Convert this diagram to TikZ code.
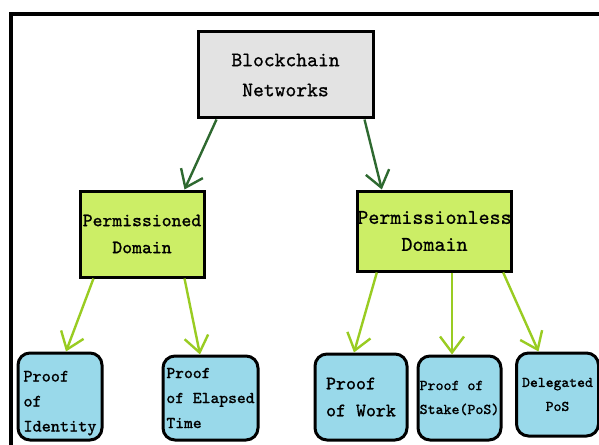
\documentclass[tikz,border=0pt]{standalone}
\usepackage{fontspec}
\newfontfamily\treefont[FakeBold=0.8]{Latin Modern Mono}
\usetikzlibrary{arrows.meta}

\definecolor{rootgray}{HTML}{E3E3E3}
\definecolor{domaingreen}{HTML}{CCEE66}
\definecolor{leafblue}{HTML}{99D9EA}
\definecolor{darkarrow}{HTML}{2E6930}
\definecolor{lightarrow}{HTML}{99CC22}

\begin{document}
\begin{tikzpicture}[x=0.5pt,y=-0.5pt,
        rootbox/.style={draw=black, line width=1.5pt, fill=rootgray, inner sep=0pt,
            minimum width=87.5pt, minimum height=43pt, align=center,
            font=\treefont\fontsize{10.3}{15}\selectfont},
        domainbox/.style={draw=black, line width=1.5pt, fill=domaingreen, inner sep=0pt,
            align=center, font=\treefont\fontsize{9.4}{13.5}\selectfont},
        leafbox/.style={draw=black, line width=1.5pt, fill=leafblue, rounded corners=6pt,
            inner sep=0pt, align=left, font=\treefont\fontsize{8.3}{12.5}\selectfont},
        darklink/.style={draw=darkarrow, line width=1.2pt, -{Straight Barb[length=8pt,width=12pt]}},
        lightlink/.style={draw=lightarrow, line width=1.2pt, -{Straight Barb[length=8pt,width=12pt]}}]

        \useasboundingbox (0,0) rectangle (599,444);
        \draw[line width=2pt] (11,14) rectangle (620,470);

        % top of the tree
        \node[rootbox] (root) at (285.5,75) {Blockchain\\Networks};

        % the two domains
        \node[domainbox, minimum width=62pt, minimum height=43pt] (perm) at (142,234) {Permissioned\\Domain};
        \node[domainbox, minimum width=72.5pt, minimum height=40pt,
            font=\treefont\fontsize{10.5}{13.5}\selectfont] (permless) at (434.5,231) {Permissionless\\Domain};

        % consensus algorithms
        \node[leafbox, minimum width=42pt, minimum height=43.5pt,
            font=\treefont\fontsize{8.7}{12.5}\selectfont] (poi) at (60,396.5) {\rule{0pt}{12pt}Proof\\of\\Identity};
        \node[leafbox, minimum width=47.5pt, minimum height=42pt] (poet) at (210.5,398) {Proof\\of Elapsed\\Time};
        \node[leafbox, minimum width=46pt, minimum height=43pt,
            font=\treefont\fontsize{9.5}{13.5}\selectfont] (pow) at (361,397) {Proof\\of Work};
        \node[leafbox, minimum width=41.5pt, minimum height=42pt,
            font=\treefont\fontsize{7.5}{12}\selectfont] (pos) at (459.5,398) {Proof of\\Stake(PoS)};
        \node[leafbox, minimum width=41pt, minimum height=41.5pt, align=center,
            font=\treefont\fontsize{7.4}{12}\selectfont] (dpos) at (557.5,394.5) {Delegated\\PoS};

        \draw[darklink] ([xshift=10pt]root.south west) -- ([xshift=-10.5pt]perm.north east);
        \draw[darklink] ([xshift=-5pt]root.south east) -- ([xshift=13pt]permless.north west);

        \draw[lightlink] ([xshift=7.5pt]perm.south west) -- ([xshift=3pt]poi.north);
        \draw[lightlink] ([xshift=-10.5pt]perm.south east) -- ([xshift=-5.25pt]poet.north);
        \draw[lightlink] ([xshift=10.5pt]permless.south west) -- ([xshift=-3.5pt]pow.north);
        \draw[lightlink] ([xshift=8.75pt]permless.south) -- ([xshift=-3.75pt]pos.north);
        \draw[lightlink] ([xshift=-5pt]permless.south east) -- ([xshift=-9.5pt]dpos.north);
    \end{tikzpicture}
\end{document}
